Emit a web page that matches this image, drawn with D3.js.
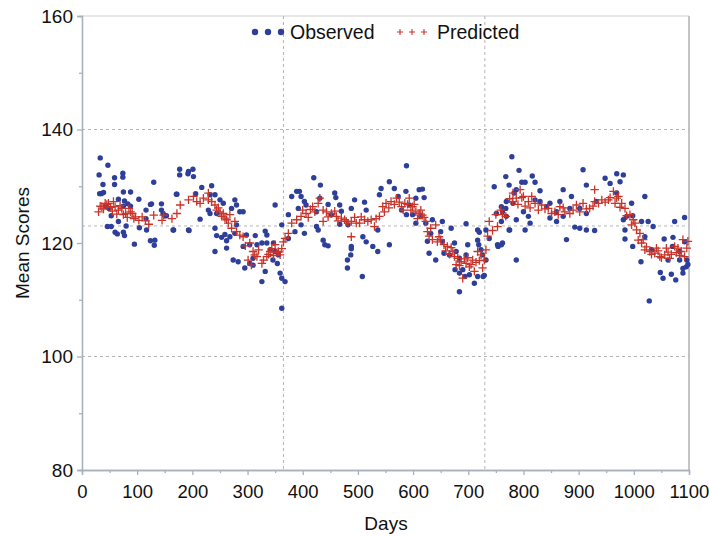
<!DOCTYPE html>
<html><head><meta charset="utf-8">
<script src="https://cdn.jsdelivr.net/npm/d3@7"></script>
<style>html,body{margin:0;padding:0;background:#fff;}svg{display:block;font-family:"Liberation Sans",Arial,sans-serif;}</style>
</head><body><svg id="c" width="709" height="537"></svg>
<script>
const xTicks=[0,100,200,300,400,500,600,700,800,900,1000,1100];
const xMinor=[50,150,250,350,450,550,650,750,850,950,1050];
const yTicks=[80,100,120,140,160];
const yMinor=[90,110,130,150];
const refH=[140,123,100];
const refV=[365,730];
const obsDay=[33,31,47,32,35,39,38,59,59,74,74,75,88,66,77,43,49,75,83,88,103,130,124,144,144,150,153,116,116,53,46,53,60,64,75,77,66,95,124,131,104,117,80,166,193,177,177,193,172,126,147,132,165,171,192,201,194,206,214,217,
202,235,232,241,250,256,229,232,244,277,280,271,286,292,241,244,253,259,262,277,298,314,332,335,326,335,241,262,283,295,310,326,332,347,350,356,354,359,362,368,362,350,362,374,380,389,392,386,374,304,292,280,268,310,317,341,346,274,304,
420,432,397,403,394,406,431,425,446,458,460,467,470,452,494,488,512,515,539,542,557,566,573,588,579,588,425,428,403,397,437,440,446,467,482,488,488,487,481,481,509,515,527,536,536,557,508,
587,611,617,620,605,593,599,614,605,623,632,635,650,653,669,696,717,720,732,626,629,653,656,641,675,678,699,717,719,723,738,666,684,684,676,690,702,717,729,711,684,696,726,732,747,753,762,768,774,779,762,768,774,783,694,727,
792,816,797,803,821,830,787,781,821,769,760,751,830,848,866,872,887,908,914,932,948,957,969,981,975,969,996,1020,800,809,812,787,769,760,803,775,760,754,787,878,893,902,914,929,848,860,872,884,902,914,842,860,984,981,987,998,984,998,1013,1014,1026,1035,1020,1032,1055,1071,1074,1092,1070,1083,1096,1092,1028,1048,1053,1068,1076,1089,1089,1095,1062,1083,1098];
const obsVal=[135.0,132.0,133.7,128.7,128.7,128.9,130.3,131.5,130.3,132.3,131.6,129,129,127.7,127.4,126.4,126.1,126.5,126.9,126.5,127.7,130.7,126.8,126.9,125.8,124.8,124.8,125.8,124.3,124.8,122.9,122.9,121.9,121.6,121.9,121.3,123.8,119.8,120.4,119.6,122.7,122.3,123,122.3,122.3,133,132,132.6,128.6,126.9,125.2,120.5,122.3,128.6,132.2,133,122.2,128.7,124.2,129.8,
131.7,130.1,128.5,128.5,127.6,127,125.8,125.2,125.2,127.6,126.7,126.1,125.5,125.5,122.6,121.3,121,121.5,120.4,121.7,121.4,121.3,122.1,121.4,120,120,118.5,119.1,116.7,115.6,116.1,113.2,115,120,118.5,117.9,116.4,114.7,113.8,113.2,108.5,126.7,123.2,125,128.2,129.1,126.1,122,120.8,119.7,119.4,123.2,121.1,117.3,119.7,118.8,117,117,116.4,
131.5,130.2,128.2,127.3,129.1,126.7,127.9,125.5,126.8,128.8,128,126.7,125.6,125,127.6,126.1,127.2,125.8,128.5,129.6,130.8,129.6,128.2,133.6,125.8,125,122.9,122.3,121.7,123.2,120.5,119.7,119.5,123.3,123.2,119.4,119,117.9,117,115.6,121.1,120.2,119.4,118.5,122.3,119.7,114.1,
129.1,129.4,129.5,128,127.9,126.7,125,124.7,123.5,123.5,121.7,124.1,122,123.8,122.6,123.4,122.3,121.9,122.3,120.3,118.2,120.3,118.2,117,120,118.5,119.7,120.5,119.7,118.8,120.8,117.9,117.3,114.7,115.3,115.3,114.4,114.1,114.3,112.9,111.4,117.9,117.9,117,129.9,119.7,120,131.7,130.2,135.2,125.5,126.1,122.3,128.8,114.1,114.1,
132.8,131.8,130.7,130.7,130.7,129.2,129.4,127,127.6,127.3,126.4,125.2,127.3,127,127.3,129.4,128.2,132.9,130.2,127.3,131.4,130.5,132.2,132,130.8,128.8,127,128.2,125.5,124.7,123.5,124.1,124.7,123.8,122.3,122.3,119.7,119.4,117,120.6,122.8,122.6,122.3,122.2,124.4,123.8,124.7,126.1,126.1,125.2,126.4,125.5,122.3,124.1,124.7,124.8,120.7,119.4,116.7,123.8,123.8,122.9,121.1,118.8,120.7,121,123.8,124.5,119.4,118.5,117,120.2,109.8,114.8,113.8,114.5,113.5,115.5,114.7,115.8,117,117,116.2];
const predDay=[30,33,36,39,42,45,48,52,55,57,60,63,66,69,72,75,79,82,85,88,91,94,97,103,109,115,121,130,145,148,163,172,178,193,
202,208,214,220,229,229,235,241,244,247,250,253,256,259,262,265,268,271,277,280,286,292,296,301,304,307,310,313,317,320,326,329,335,338,341,344,347,350,353,356,359,362,365,368,374,380,389,
397,400,406,410,414,418,422,428,431,437,437,443,446,452,458,461,464,470,476,479,482,488,488,494,497,503,506,512,518,524,530,533,539,545,548,551,556,560,566,570,575,579,582,585,590,
593,596,599,602,605,608,611,614,617,620,623,626,629,632,635,641,644,647,650,656,659,662,666,669,672,675,678,681,684,687,690,693,696,699,702,705,708,711,714,717,720,723,726,729,732,735,738,744,750,753,
759,762,768,775,780,781,787,790,794,797,800,803,809,812,815,821,827,833,839,845,851,857,863,866,872,875,884,890,896,902,908,914,920,926,929,929,936,942,948,954,957,963,966,969,972,975,978,984,987,993,996,999,1002,1005,1008,1011,1014,1017,1020,1023,1029,1032,1038,1041,1044,1047,1050,1056,1059,1062,1065,1068,1074,1077,1080,1083,1086,1089,1092,1096,1098];
const predVal=[125.5,126.5,126.4,126.0,127.0,126.8,127.0,126.3,125.6,127.3,126.4,125.1,125.8,126.6,126.1,125.0,125.2,124.5,126.1,125.5,125.2,124.3,124.6,124.0,124.6,123.9,123.3,124.9,124.0,124.9,124.3,125.2,126.7,127.6,
128.2,127.3,127.0,127.9,128.8,127.6,127.3,126.7,125.8,126.2,125.5,124.7,125.2,124.4,124.1,123.5,125.0,122.6,123.8,122.0,121.4,121.1,119.5,117.0,120.0,116.1,118.5,117.9,117.6,118.8,116.4,117.0,117.6,118.0,118.5,119.0,117.8,119.7,118.3,118.5,117.9,119.0,120.2,120.8,121.7,123.5,124.1,
124.7,125.8,125.2,124.5,125.9,126.4,125.5,127.0,127.9,125.8,123.8,125.5,124.6,125.2,125.6,124.7,123.9,124.4,124.1,123.8,123.5,123.8,121.1,124.5,123.5,123.5,124.6,124.1,123.8,124.1,122.9,124.3,124.7,126.4,125.5,127.0,126.2,127.3,126.8,127.9,127.2,126.4,125.8,127.0,126.8,
127.9,125.8,126.4,126.8,125.5,124.3,125.2,125.8,124.9,124.5,123.8,122.0,121.2,122.6,120.6,123.2,120.2,121.1,120.6,119.7,118.6,119.4,118.0,119.2,118.5,117.6,116.2,117.3,116.0,116.7,113.8,117.2,116.4,117.4,115.8,116.2,117.0,115.0,116.6,118.5,116.9,117.9,115.6,117.0,118.8,121.2,123.8,122.2,125.0,122.9,
125.8,125.0,124.7,127.8,127.3,128.8,127.9,126.8,129.4,128.0,128.2,126.5,127.3,126.2,128.2,127.0,125.8,126.7,126.0,126.1,125.2,125.5,125.0,126.4,126.2,125.5,125.2,125.8,126.7,125.5,127.0,126.0,126.1,126.5,129.4,127.3,127.0,127.6,127.2,127.6,128.0,129.1,127.0,127.9,128.2,126.3,127.0,126.1,124.8,125.0,123.2,124.1,123.5,122.3,120.5,121.7,120.0,120.6,118.8,119.3,118.5,118.0,118.2,119.1,118.6,117.6,117.4,117.9,119.1,118.4,117.3,118.0,119.4,118.3,119.1,117.8,118.5,120.6,117.6,119.1,120.3];

const svg=d3.select("#c");
const x=d3.scaleLinear().domain([0,1100]).range([82,689]);
const y=d3.scaleLinear().domain([80,160]).range([470,16]);
const axisCol="#a7b1be";
const gridCol="#b4b4b4";
const FONT="'Liberation Sans',Arial,sans-serif";

// frame top / right
svg.append("line").attr("x1",x(0)).attr("x2",x(1100)).attr("y1",y(160)).attr("y2",y(160)).attr("stroke","#cfcfcf").attr("stroke-width",1);
svg.append("line").attr("x1",x(1100)).attr("x2",x(1100)).attr("y1",y(160)).attr("y2",y(80)).attr("stroke","#c4c4c4").attr("stroke-width",2);

// reference lines
svg.selectAll(".rh").data(refH).join("line").attr("x1",x(0)).attr("x2",x(1100)).attr("y1",d=>y(d)).attr("y2",d=>y(d)).attr("stroke",gridCol).attr("stroke-dasharray","3,3").attr("stroke-width",1);
svg.selectAll(".rv").data(refV).join("line").attr("x1",d=>x(d)).attr("x2",d=>x(d)).attr("y1",y(160)).attr("y2",y(80)).attr("stroke",gridCol).attr("stroke-dasharray","3,3").attr("stroke-width",1);

// axes
function styleAxis(g,fs){g.select(".domain").attr("stroke",axisCol).attr("stroke-width",1.3);g.selectAll(".tick line").attr("stroke",axisCol).attr("stroke-width",1.3);g.selectAll("text").attr("fill","#111").style("font-size",fs+"px").style("font-family",FONT);}
const gx=svg.append("g").attr("transform",`translate(0,${y(80)})`).call(d3.axisBottom(x).tickValues(xTicks).tickSize(5).tickPadding(10).tickFormat(d3.format("d")));
styleAxis(gx,18.5);
const gxm=svg.append("g").attr("transform",`translate(0,${y(80)})`).call(d3.axisBottom(x).tickValues(xMinor).tickSize(3).tickFormat(""));
styleAxis(gxm,18);
const gy=svg.append("g").attr("transform",`translate(${x(0)},0)`).call(d3.axisLeft(y).tickValues(yTicks).tickSize(5).tickPadding(4).tickFormat(d3.format("d")));
styleAxis(gy,19);
const gym=svg.append("g").attr("transform",`translate(${x(0)},0)`).call(d3.axisLeft(y).tickValues(yMinor).tickSize(3).tickFormat(""));
styleAxis(gym,18);

// titles
svg.append("text").attr("x",386).attr("y",530).attr("text-anchor","middle").attr("fill","#111").style("font-size","19px").text("Days");
svg.append("text").attr("transform",`translate(29,${y(120)}) rotate(-90)`).attr("text-anchor","middle").attr("fill","#111").style("font-size","19px").text("Mean Scores");

const blue="#2e3f9a", red="#c8342a";
// observed
const obs=obsDay.map((d,i)=>({d,v:obsVal[i]}));
svg.append("g").selectAll("circle").data(obs).join("circle").attr("cx",p=>x(p.d)).attr("cy",p=>y(p.v)).attr("r",2.7).attr("fill",blue);
// predicted
const pred=predDay.map((d,i)=>({d,v:predVal[i]}));
const cs=4.2;
svg.append("g").selectAll("path").data(pred).join("path").attr("d",p=>`M${x(p.d)-cs},${y(p.v)}H${x(p.d)+cs}M${x(p.d)},${y(p.v)-cs}V${y(p.v)+cs}`).attr("stroke",red).attr("stroke-width",1.3).attr("fill","none");

// legend
const lg=svg.append("g");
[255,268,281].forEach(cx=>lg.append("circle").attr("cx",cx).attr("cy",32).attr("r",3.2).attr("fill",blue));
lg.append("text").attr("x",290).attr("y",39).attr("fill","#111").style("font-size","19.5px").text("Observed");
[400,412,424].forEach(cx=>lg.append("path").attr("d",`M${cx-3},32H${cx+3}M${cx},29V35`).attr("stroke",red).attr("stroke-width",1.1));
lg.append("text").attr("x",437).attr("y",39).attr("fill","#111").style("font-size","19.5px").text("Predicted");
</script></body></html>
